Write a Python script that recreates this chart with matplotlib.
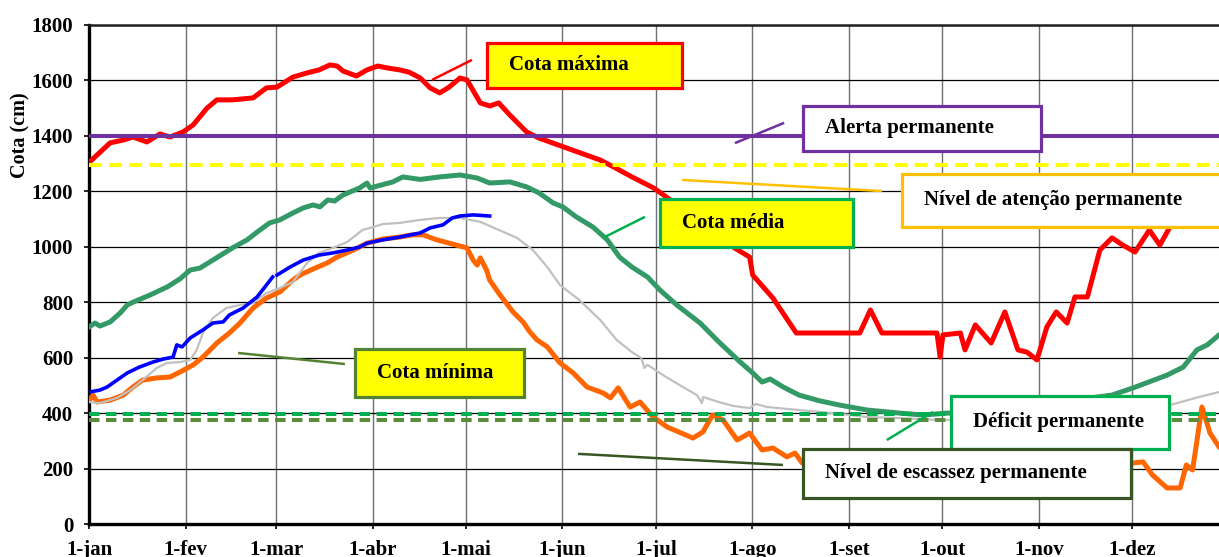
import numpy as np
import matplotlib.pyplot as plt
from matplotlib.patches import Rectangle

plt.rcParams['font.family'] = ['Liberation Serif', 'DejaVu Serif']
plt.rcParams['font.weight'] = 'bold'

# eixo x em dias do ano (0 = 1-jan, ano bissexto)
meses = ['1-jan', '1-fev', '1-mar', '1-abr', '1-mai', '1-jun',
         '1-jul', '1-ago', '1-set', '1-out', '1-nov', '1-dez']
dias_mes = [0, 31, 60, 91, 121, 152, 182, 213, 244, 274, 305, 335]

# Cota máxima
max_dia = [0, 6.7, 10.9, 14.0, 18.5, 22.7, 25.9, 30.1, 33.4, 37.8, 41.0, 46.0, 52.6, 56.9, 60.3,
           65.4, 69.9, 73.8, 77.3, 79.6, 81.5, 85.8, 89.2, 92.7, 95.7, 99.7, 102.7, 106.3, 109.5,
           112.6, 115.6, 119.1, 121.3, 125.6, 128.6, 131.5, 135.1, 140.5, 144.5, 153.4, 164.1,
           168.4, 174.3, 181.3, 185.3, 196.2, 206.8, 212.1, 213.1, 219.6, 227.1, 247.5, 250.9,
           254.6, 272.3, 273.3, 274.2, 279.8, 281.3, 284.6, 289.7, 294.1, 298.3, 301.2, 304.4,
           307.6, 310.6, 314.1, 316.6, 320.6, 324.6, 328.5, 332.0, 335.9, 340.5, 343.9, 347.1,
           353.4, 366]
max_cota = [1305, 1375, 1385, 1396, 1378, 1407, 1396, 1414, 1440, 1500, 1530, 1530, 1537, 1573, 1576,
            1612, 1627, 1638, 1656, 1652, 1634, 1616, 1638, 1652, 1645, 1638, 1630, 1609, 1573,
            1555, 1576, 1609, 1602, 1519, 1508, 1519, 1475, 1414, 1392, 1356, 1313,
            1288, 1252, 1212, 1180, 1090, 999, 963, 898, 815, 689, 689, 772,
            689, 689, 602, 682, 689, 628, 718, 653, 765, 628, 620, 592,
            711, 765, 725, 819, 819, 988, 1032, 1006, 981, 1060, 1006, 1071,
            1150, 1200]

# Cota média
med_dia = [0, 1.8, 3.4, 6.7, 9.9, 12.2, 14.0, 19.5, 25.0, 29.1, 32.4, 35.5, 39.7, 46.0, 50.7,
           53.9, 57.9, 61.2, 65.4, 68.7, 71.9, 74.1, 76.6, 78.8, 81.5, 86.8, 89.2, 90.2, 97.5,
           100.7, 106.3, 112.6, 119.1, 124.6, 128.6, 135.1, 140.5, 144.5, 149.0, 152.1, 156.4,
           161.8, 166.4, 170.3, 174.3, 179.3, 183.3, 188.7, 196.2, 202.2, 209.1, 213.1, 216.1,
           218.7, 222.9, 228.0, 234.7, 241.0, 249.9, 260.4, 267.8, 275.5, 292.7, 304.4, 315.0,
           328.5, 335.3, 346.2, 351.4, 355.8, 359.1, 362.9, 366]
med_cota = [711, 725, 714, 729, 761, 790, 800, 826, 855, 884, 916, 923, 952, 996, 1025,
            1053, 1086, 1097, 1122, 1140, 1151, 1144, 1169, 1165, 1187, 1212, 1230, 1212, 1234,
            1252, 1243, 1252, 1259, 1248, 1230, 1234, 1216, 1194, 1158, 1144, 1108,
            1071, 1025, 963, 927, 891, 844, 790, 725, 657, 584, 545, 512,
            523, 494, 465, 444, 429, 411, 400, 393, 400, 405, 420, 445,
            465, 491, 537, 566, 628, 646, 682, 700]

# Cota mínima
min_dia = [0, 1.2, 2.5, 6.7, 10.9, 14.0, 17.1, 21.7, 25.9, 29.1, 33.4, 36.5, 41.0, 45.0, 48.4,
           52.6, 56.9, 61.2, 65.4, 67.7, 71.9, 76.3, 79.6, 84.8, 89.2, 94.3, 99.7, 103.7, 107.2,
           111.6, 115.6, 121.3, 123.3, 124.6, 125.6, 127.6, 128.6, 131.5, 136.1, 139.3, 141.5,
           143.8, 147.1, 151.2, 155.4, 159.9, 165.0, 167.4, 169.9, 173.7, 176.9, 181.1, 185.6,
           193.9, 197.1, 200.2, 203.6, 208.1, 212.1, 216.1, 219.6, 224.1, 226.7, 229.0, 238.0,
           247.5, 260.4, 276.5, 292.7, 308.6, 324.6, 335.3, 338.5, 341.5, 346.2, 350.4, 352.4,
           354.4, 357.4, 360.0, 362.9, 366]
min_cota = [447, 465, 440, 447, 465, 494, 519, 527, 530, 548, 574, 602, 653, 689, 725,
            779, 815, 837, 880, 898, 920, 941, 963, 988, 1013, 1028, 1035, 1043, 1043,
            1025, 1013, 996, 952, 934, 960, 916, 880, 833, 765, 729, 693,
            664, 639, 581, 545, 494, 473, 455, 491, 422, 440, 386, 350,
            310, 332, 393, 375, 303, 328, 267, 274, 242, 256, 220, 250,
            265, 240, 230, 215, 220, 215, 220, 224, 177, 130, 130, 213,
            195, 422, 328, 278, 250]

# série azul (ano corrente), com falha perto de 1-mar
atual_dia = [0, 3.4, 5.7, 8.9, 12.2, 16.1, 20.4, 23.7, 26.9, 28.1, 29.8, 32.4, 36.5, 39.7, 43.0,
             45.0, 49.4, 53.9, 56.9, 58.9, 59.6, 60.3, 64.5, 68.7, 73.8, 78.3, 82.8, 86.8, 89.2,
             94.3, 99.7, 106.3, 109.5, 113.6, 116.6, 119.1, 123.3, 128.6]
atual_cota = [476, 483, 494, 519, 545, 566, 584, 595, 602, 646, 639, 671, 700, 725, 729,
              754, 779, 819, 862, 891, np.nan, 898, 927, 952, 970, 978, 988, 999, 1013,
              1025, 1035, 1050, 1068, 1079, 1104, 1111, 1115, 1111]

# série cinza
cinza_dia = [0, 3.4, 8.9, 13.2, 17.1, 21.7, 25.0, 29.1, 32.4, 34.5, 36.5, 39.7, 44.0, 48.4,
             52.6, 56.9, 61.2, 65.4, 69.9, 73.8, 78.3, 82.8, 85.8, 87.8, 90.2, 94.3, 99.7,
             106.3, 112.6, 119.1, 125.6, 131.5, 137.4, 142.5, 147.1, 151.2, 157.4, 164.1, 169.4,
             174.3, 177.3, 178.3, 179.3, 185.3, 190.7, 195.2, 196.8, 197.2, 202.2, 206.8, 212.1,
             214.1, 217.7, 228.0, 239.0, 249.9, 260.4, 273.3, 292.7, 308.6, 324.6, 347.1, 356.4,
             362.9, 366]
cinza_cota = [440, 436, 455, 483, 519, 563, 581, 584, 592, 628, 689, 743, 779, 790,
              797, 833, 851, 873, 941, 978, 996, 1017, 1043, 1061, 1068, 1082, 1086,
              1097, 1104, 1104, 1090, 1061, 1032, 988, 927, 862, 808, 736, 664,
              620, 599, 563, 574, 530, 494, 465, 436, 458, 440, 426, 418,
              433, 422, 411, 400, 386, 382, 375, 380, 390, 410, 429, 458,
              476, 485]

# níveis de referência
alerta = 1400
atencao = 1295
deficit = 395
escassez = 375

fig = plt.figure(figsize=(12.19, 5.57), dpi=100)
ax = fig.add_axes([89.3 / 1219, 33 / 557, 1139.4 / 1219, 499 / 557])

ax.plot(min_dia, min_cota, color='#FF6600', lw=3.6, zorder=3)
ax.plot(cinza_dia, cinza_cota, color='#C0C0C0', lw=1.6, zorder=3)
ax.plot(atual_dia, atual_cota, color='#0000FF', lw=2.6, zorder=3)
ax.plot(med_dia, med_cota, color='#339966', lw=3.6, zorder=3)
ax.plot(max_dia, max_cota, color='#FF0000', lw=3.6, zorder=3)

ax.axhline(alerta, color='#7030A0', lw=2.9, zorder=4)
ax.axhline(atencao, color='#FFFF00', lw=2.9, ls=(0, (3.2, 1.8)), zorder=4)
ax.axhline(deficit, color='#00B050', lw=2.9, ls=(0, (2.6, 1.6)), zorder=4)
ax.axhline(escassez, color='#5B8C3E', lw=2.9, ls=(0, (2.6, 1.6)), zorder=4)

# caixas de texto: (texto, x0, x1, y0, y1, fundo, borda) e linhas de chamada
caixas = [
    ('Cota máxima', 127.7, 190.4, 1573, 1735, '#FFFF00', '#FF0000'),
    ('Alerta permanente', 229.3, 305.7, 1346, 1508, 'white', '#7030A0'),
    ('Nível de atenção permanente', 261.1, 368, 1071, 1263, 'white', '#FFC000'),
    ('Cota média', 183.3, 245.3, 999, 1172, '#FFFF00', '#00B050'),
    ('Cota mínima', 85.4, 139.6, 458, 631, '#FFFF00', '#548235'),
    ('Déficit permanente', 276.8, 346.8, 271, 462, 'white', '#00B050'),
    ('Nível de escassez permanente', 229.3, 334.6, 94, 271, 'white', '#375623'),
]
chamadas = [
    ((110.1, 122.9), (1602, 1674), '#FF0000'),
    ((207.4, 223.2), (1374, 1447), '#7030A0'),
    ((190.4, 254.6), (1241, 1201), '#FFC000'),
    ((165.0, 178.5), (1032, 1108), '#00B050'),
    ((47.8, 82.1), (617, 577), '#548235'),
    ((256.2, 271.0), (303, 404), '#00B050'),
    ((157.0, 222.8), (253, 213), '#375623'),
]
for xs, ys, c in chamadas:
    ax.plot(xs, ys, color=c, lw=1.8, zorder=6, solid_capstyle='butt')

for txt, x0, x1, y0, y1, fc, ec in caixas:
    ax.add_patch(Rectangle((x0, y0), x1 - x0, y1 - y0, facecolor=fc, edgecolor=ec,
                           lw=2.3, zorder=7, clip_on=False))
    ax.text(x0 + 7.1, (y0 + y1) / 2, txt, ha='left', va='center', fontsize=15,
            fontweight='bold', zorder=8)

ax.set_xlim(0, 366)
ax.set_ylim(0, 1800)
ax.set_xticks(dias_mes)
ax.set_xticklabels(meses)
ax.set_yticks(np.arange(0, 1801, 200))
ax.tick_params(axis='both', labelsize=15, length=3.6, width=1.2, direction='out')
ax.tick_params(axis='x', pad=8)
ax.tick_params(axis='y', pad=8)
for lab in ax.get_xticklabels() + ax.get_yticklabels():
    lab.set_fontweight('bold')

ax.grid(axis='y', color='black', lw=0.9, zorder=1)
ax.grid(axis='x', color='#707070', lw=1.0, zorder=1)
ax.set_axisbelow(True)
for s in ['left', 'bottom']:
    ax.spines[s].set_linewidth(2.4)
ax.spines['top'].set_linewidth(1.8)
ax.spines['top'].set_color('#202020')
ax.spines['right'].set_visible(False)

ax.set_ylabel('Cota (cm)', fontsize=14.5, fontweight='bold')
ax.yaxis.set_label_coords(-0.0515, 0.78)

fig.savefig('out.png', dpi=100)
